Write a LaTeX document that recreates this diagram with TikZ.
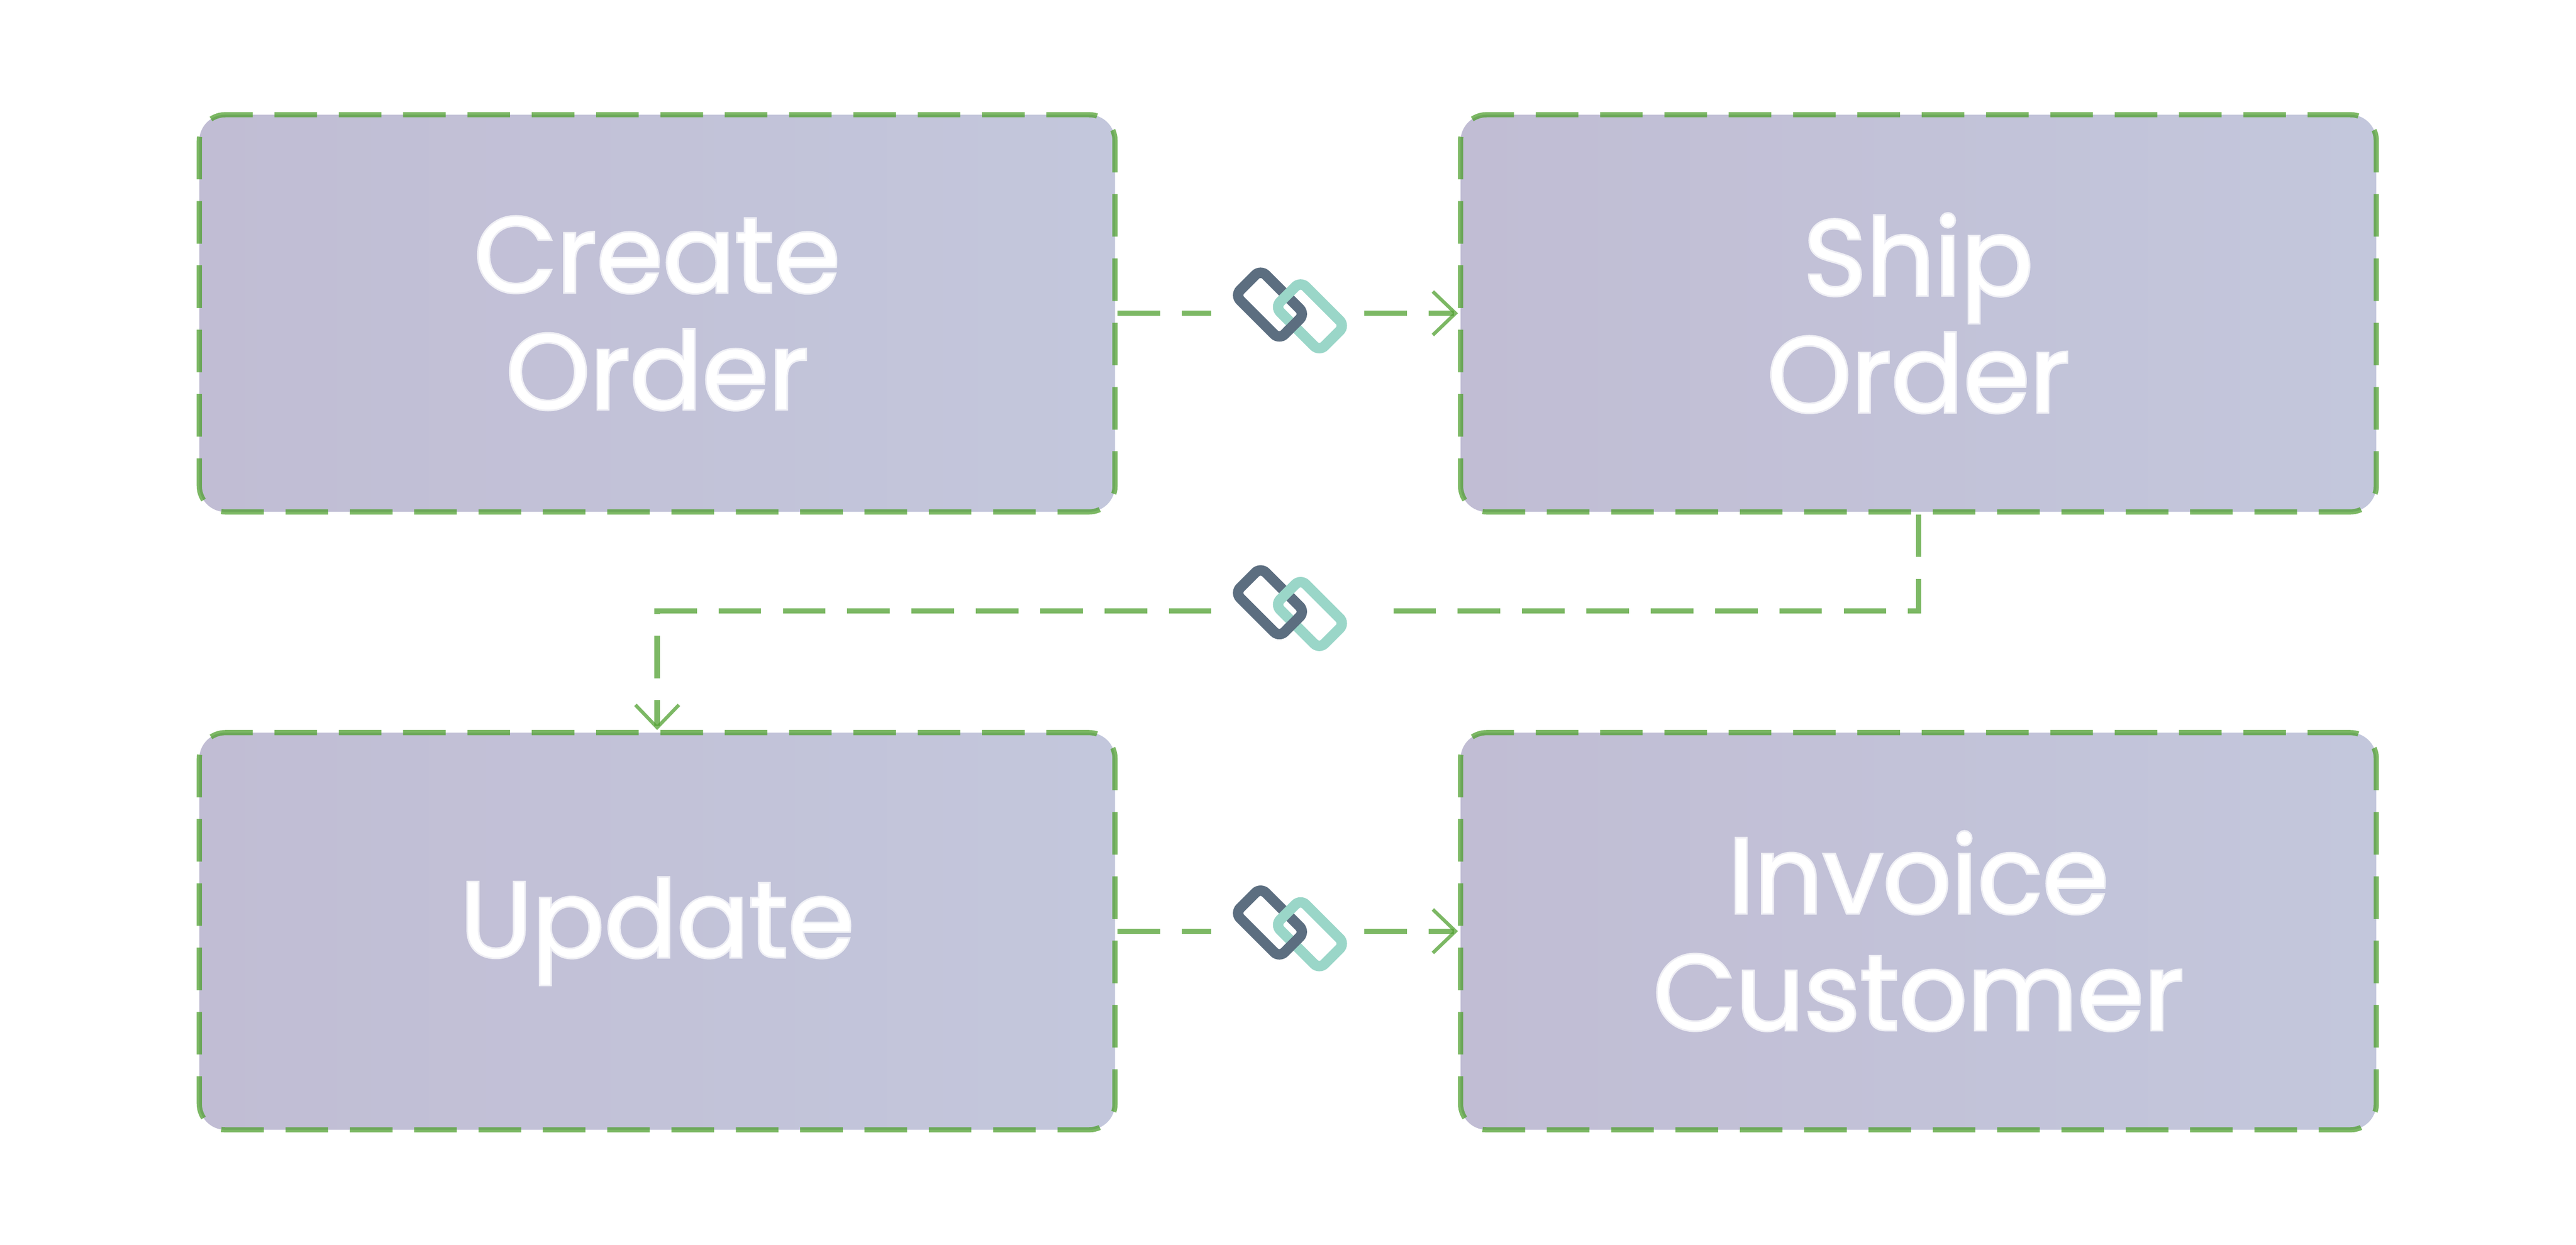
\documentclass[tikz,border=0pt]{standalone}
\usepackage{fontspec}
\setmainfont{Poppins}[BoldFont={*},BoldFeatures={FakeBold=3}]
\usetikzlibrary{arrows.meta}

\definecolor{boxleft}{RGB}{193,189,212}
\definecolor{boxright}{RGB}{195,199,220}
\definecolor{flowgreen}{RGB}{80,160,48}
\definecolor{linkdark}{RGB}{92,110,128}
\definecolor{linkteal}{RGB}{154,214,200}

\begin{document}
\begin{tikzpicture}[
	task/.style={rectangle,rounded corners=0.6cm,minimum width=21.07cm,minimum height=9.14cm,
		left color=boxleft,right color=boxright,draw=flowgreen,draw opacity=0.75,line width=0.12cm,
		dash pattern=on 0.98cm off 0.5cm,text=white,align=center,
		font=\fontsize{70pt}{76.5pt}\selectfont\bfseries},
	gap/.style={minimum width=3.5cm,minimum height=0.5cm,inner sep=0pt},
	ring/.style={rectangle,rounded corners=0.17cm,minimum width=1.44cm,minimum height=0.83cm,
		inner sep=0pt,line width=0.24cm,rotate=-45},
	flow/.style={draw=flowgreen,draw opacity=0.75,line width=0.12cm,dash pattern=on 0.98cm off 0.5cm},
	tip/.style={-{Straight Barb[length=0.52cm,width=1.0cm,line width=0.08cm]}}
	]
			\useasboundingbox (0,0) rectangle (59.27,28.64);
			\node[task] (A) at (15.12,21.43) {Create\\Order};
			\node[task] (B) at (44.14,21.43) {Ship\\Order};
			\node[task] (C) at (15.12,7.21) {Update};
			\node[task] (D) at (44.14,7.21) {Invoice\\Customer};
			\node[gap] (L1) at (29.63,21.43) {};
			\node[gap] (L2) at (29.63,14.58) {};
			\node[gap] (L3) at (29.63,7.21) {};
			\draw[flow] (A.east) -- (L1);
			\draw[flow,tip] (L1) -- (B.west);
			\draw[flow,shorten >=0.4cm] (B.south) |- (L2.east);
			\draw[flow,tip] (L2.west) -| (C.north);
			\draw[flow] (C.east) -- (L3);
			\draw[flow,tip] (L3) -- (D.west);
			% chain links on the connectors
			\foreach \l in {L1,L2,L3}{
				\node[ring,draw=linkdark] at ([shift={(-0.41,0.20)}]\l) {};
				\node[ring,draw=linkteal] at ([shift={(0.51,-0.07)}]\l) {};
				\begin{scope}
					\clip ([shift={(0.10,-0.25)}]\l) circle (0.22);
					\node[ring,draw=linkdark] at ([shift={(-0.41,0.20)}]\l) {};
				\end{scope}
			}
		\end{tikzpicture}
\end{document}
